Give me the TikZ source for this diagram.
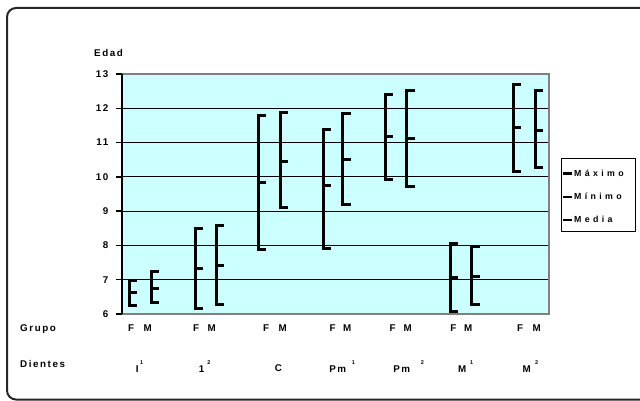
\documentclass[tikz,border=0pt]{standalone}
\usepackage{fontspec}
\setmainfont{Liberation Sans}
\newfontfamily\lbl{Liberation Sans Bold}[LetterSpace=16]
\newfontfamily\lgd{Liberation Sans Bold}[LetterSpace=38]
\definecolor{plotbg}{HTML}{CCFFFF}
\definecolor{bordergray}{HTML}{808080}
\newcommand\errbar[4]{%
  \draw[barline] (#1,{314-(#2-6)*34.2857}) -- (#1,{314-(#4-6)*34.2857});
  \foreach \w in {#2,#3,#4} \draw[tickline] ({#1-1},{314-(\w-6)*34.2857}) -- ++(9,0);
}
\begin{document}
\begin{tikzpicture}[x=1pt,y=-1pt,
  txt/.style={inner sep=0pt, font=\lbl\fontsize{9.8}{10}\selectfont},
  sup/.style={inner sep=0pt, font=\lbl\fontsize{5.5}{6}\selectfont},
  lgtxt/.style={inner sep=0pt, anchor=west, font=\lgd\fontsize{8.8}{9}\selectfont},
  gridline/.style={line width=1pt, black},
  barline/.style={line width=3pt, line cap=rect, black},
  tickline/.style={line width=3pt, black},
  frame/.style={line width=2pt, black!85, rounded corners=9pt}]
\useasboundingbox (0,0) rectangle (640,401);
\clip (0,0) rectangle (640,401);
\draw[frame] (7,8) rectangle (670,399.5);
% plot area
\fill[plotbg] (122,74) rectangle (549,314);
\foreach \v in {7,...,12} \draw[gridline] (122,{314-(\v-6)*34.2857}) -- (549,{314-(\v-6)*34.2857});
\draw[bordergray, line width=1.6pt] (122,74) -- (549,74) -- (549,314) -- (122,314);
\draw[black, line width=1.6pt] (122,74) -- (122,314);
\foreach \v in {6,...,13} {
  \draw[black, line width=1.3pt] (116,{314-(\v-6)*34.2857}) -- (122,{314-(\v-6)*34.2857});
  \node[txt, anchor=east] (y\v) at (108.5,{314-(\v-6)*34.2857}) {\v};
}
\node[txt, anchor=west] (edad) at (94,53) {Edad};
% bars
\errbar{129.3}{6.97}{6.63}{6.26}
\errbar{151}{7.23}{6.75}{6.34}
\errbar{195}{8.50}{7.33}{6.15}
\errbar{216}{8.59}{7.41}{6.27}
\errbar{258.3}{11.78}{9.83}{7.87}
\errbar{280}{11.88}{10.46}{9.10}
\errbar{323.3}{11.38}{9.76}{7.90}
\errbar{342.7}{11.85}{10.51}{9.19}
\errbar{385}{12.41}{11.17}{9.91}
\errbar{406.7}{12.53}{11.11}{9.73}
\errbar{450}{8.06}{7.07}{6.07}
\errbar{471.7}{7.96}{7.09}{6.28}
\errbar{513.3}{12.68}{11.43}{10.17}
\errbar{535}{12.53}{11.36}{10.28}
% legend
\draw[black, line width=1pt] (561,158.3) rectangle (635.7,231.7);
\draw[black, line width=3.2pt] (563,173.3) -- (572,173.3);
\draw[black, line width=2.4pt] (563,196.7) -- (572,196.7);
\draw[black, line width=2pt] (563,219.5) -- (572,219.5);
\node[lgtxt] (lmax) at (574,173.3) {Máximo};
\node[lgtxt] (lmin) at (574,196.7) {Mínimo};
\node[lgtxt] (lmed) at (574,219.5) {Media};
% x labels
\node[txt, anchor=west] (grupo) at (20,329) {Grupo};
\node[txt, anchor=west] (dientes) at (20,364) {Dientes};
\foreach \fx/\mx [count=\i] in {131/147.7, 196/211.7, 266/282.7, 332.7/347.3, 392.7/407.7, 453.3/468.3, 520/536.7} {
  \node[txt] (f\i) at (\fx,328) {F};
  \node[txt] (m\i) at (\mx,328) {M};
}
\node[txt] (d1) at (137.3,369) {I};   \node[sup] (s1) at (141.7,363) {1};
\node[txt] (d2) at (201.7,369) {1};   \node[sup] (s2) at (209,363) {2};
\node[txt] (d3) at (278.3,368) {C};
\node[txt] (d4) at (337.7,369) {Pm};  \node[sup] (s4) at (353.3,363) {1};
\node[txt] (d5) at (401.7,369) {Pm};  \node[sup] (s5) at (422.3,363) {2};
\node[txt] (d6) at (462.3,369) {M};   \node[sup] (s6) at (471.7,363) {1};
\node[txt] (d7) at (526.7,369) {M};   \node[sup] (s7) at (536.7,363) {2};
\end{tikzpicture}
\end{document}
